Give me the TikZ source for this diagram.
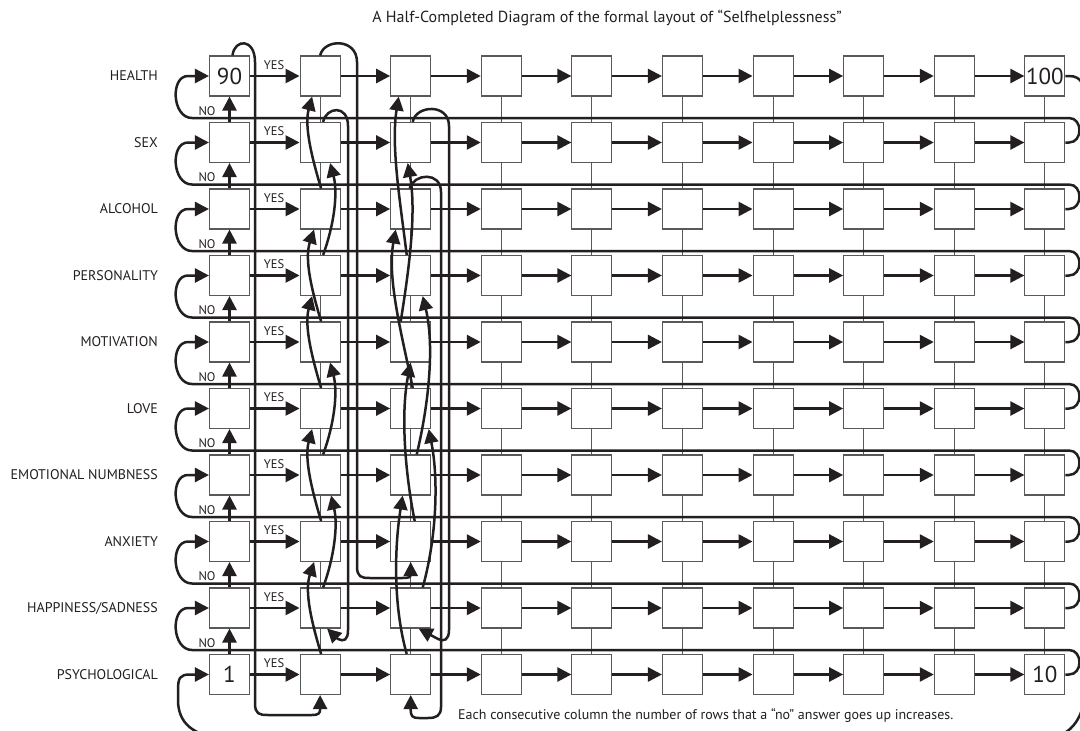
\documentclass[tikz,border=0pt]{standalone}
\usepackage{fontspec}
\setmainfont{PT Sans}
\usetikzlibrary{arrows.meta,calc}
\definecolor{ink}{HTML}{231F20}
\definecolor{boxgray}{HTML}{58595B}
\newcommand\sCurve[7]{%
  \draw[arr] ($(#1.north)+(#3,0)$) .. controls ($(#1.north)+(#4,-#7)$) and ($(#2.south)+(#5,#7)$) .. ($(#2.south)+(#6,0)$);}
\begin{document}
\begin{tikzpicture}[x=1pt,y=-1pt,
  cell/.style={draw=boxgray,line width=1.1pt,fill=white,minimum width=40pt,minimum height=40pt,inner sep=0pt},
  num/.style={font=\fontsize{23}{23}\selectfont,text=ink,inner sep=0pt},
  flow/.style={draw=ink,line width=2.5pt},
  arr/.style={flow,-{Triangle[length=14pt,width=14pt]}},
  link/.style={draw=boxgray,line width=1pt},
  lab/.style={font=\fontsize{14}{16}\selectfont,text=ink,anchor=east,inner sep=0pt},
  small/.style={font=\fontsize{12.5}{14}\selectfont,text=ink,inner sep=0pt},
  note/.style={font=\fontsize{14}{16}\selectfont,text=ink,inner sep=0pt}]
\useasboundingbox (0,0) rectangle (1080,731);
\fill[white] (0,0) rectangle (1080,731);
\clip (0,0) rectangle (1080,731);

% boxes
\foreach \r in {0,...,9} {
  \foreach \c in {0,...,9} {
    \pgfmathsetmacro\xx{229.5+90.6*\c}
    \pgfmathsetmacro\yy{76+66.5*\r}
    \node[cell] (b\r-\c) at (\xx,\yy) {};
  }
}
\node[num] (n90) at (b0-0) {90};
\node[num] (n100) at (b0-9) {100};
\node[num] (n1) at (b9-0) {1};
\node[num] (n10) at (b9-9) {10};

% thin vertical links
\foreach \r in {0,...,8} {
  \pgfmathtruncatemacro\rr{\r+1}
  \foreach \c in {1,...,9} {
    \draw[link] (b\r-\c.south) -- (b\rr-\c.north);
  }
}

% horizontal arrows
\foreach \r in {0,...,9} {
  \foreach \c in {0,...,8} {
    \pgfmathtruncatemacro\cc{\c+1}
    \draw[arr] (b\r-\c.east) -- (b\r-\cc.west);
  }
}

% NO arrows in first column
\foreach \r in {1,...,9} {
  \pgfmathtruncatemacro\rr{\r-1}
  \draw[arr] (b\r-0.north) -- (b\rr-0.south);
}

% row return lines
\foreach \k in {0,...,8} {
  \pgfmathtruncatemacro\kk{\k+1}
  \pgfmathsetmacro\yk{76+66.5*\k}
  \pgfmathsetmacro\yl{\yk+42}
  \pgfmathsetmacro\yn{\yk+66.5}
  \draw[arr] (b\kk-9.east) -- (1069,\yn) .. controls (1083,\yn) and (1083,\yl) .. (1069,\yl)
     -- (192,\yl) .. controls (172,\yl) and (170,\yk) .. (188,\yk) -- (b\k-0.west);
}

% outer loop 100 -> 1
\draw[arr] (b0-9.east) -- (1069,76) .. controls (1082,76) and (1085,86) .. (1085,100)
   -- (1085,690) .. controls (1085,712) and (1074,738) .. (1045,738)
   -- (230,738) .. controls (192,738) and (178,722) .. (178,700)
   -- (178,690) .. controls (178,678) and (180,674.5) .. (190,674.5) -- (b9-0.west);

% wrap lines
\draw[arr] ($(b0-0.north)+(3,0)$) .. controls ($(b0-0.north)+(5,-17)$) and (255,38) .. (255,62)
   -- (255,703) .. controls (255,714) and (259,715) .. (268,715)
   -- (312,715) .. controls (319,715) and (320.1,713) .. (320.1,709) -- (b9-1.south);
\draw[arr] (b0-1.north) .. controls ($(b0-1.north)+(4,-17)$) and (357,38) .. (357,62)
   -- (357,566) .. controls (357,577) and (361,578) .. (370,578)
   -- (402,578) .. controls (409,578) and (410.7,577) .. (410.7,575.5) -- (b7-2.south);
\draw[arr] ($(b1-1.north)+(3,0)$) .. controls ($(b1-1.north)+(6,-15)$) and (348,104) .. (348,126)
   -- (348,630) .. controls (348,640) and (344,642) .. (338,639) -- ($(b8-1.south)+(7,0)$);
\draw[arr] ($(b1-2.north)+(2,0)$) .. controls ($(b1-2.north)+(5,-17)$) and (449,103) .. (449,126)
   -- (449,630) .. controls (449,640) and (444,642) .. (438,639) -- ($(b8-2.south)+(8,0)$);
\draw[arr] ($(b2-2.north)+(-1,0)$) .. controls ($(b2-2.north)+(3,-15)$) and (441,171) .. (441,192)
   -- (441,707) .. controls (441,716) and (436,718) .. (428,718)
   -- (419,718) .. controls (412,718) and (410.7,716) .. (410.7,709) -- (b9-2.south);

% S-curves, second column (up two rows)
\sCurve{b2-1}{b0-1}{1}{-8}{-16}{-8}{30}
\sCurve{b3-1}{b1-1}{3}{14}{18}{10}{30}
\sCurve{b4-1}{b2-1}{1}{-8}{-16}{-6}{30}
\sCurve{b5-1}{b3-1}{1}{-8}{-16}{-8}{30}
\sCurve{b6-1}{b4-1}{3}{14}{18}{10}{30}
\sCurve{b7-1}{b5-1}{1}{-8}{-16}{-8}{30}
\sCurve{b8-1}{b6-1}{3}{14}{18}{11}{30}
\sCurve{b9-1}{b7-1}{1}{-8}{-16}{-6}{30}

% S-curves, third column (up three rows)
\sCurve{b3-2}{b0-2}{-4}{-10}{-20}{-12}{50}
\sCurve{b4-2}{b1-2}{-10}{-2}{6}{-3}{50}
\sCurve{b5-2}{b2-2}{2}{-8}{-24}{-15}{50}
\sCurve{b6-2}{b3-2}{6}{18}{24}{12}{50}
\sCurve{b7-2}{b4-2}{4}{-6}{-10}{0}{50}
\sCurve{b8-2}{b5-2}{12}{26}{28}{18}{50}
\sCurve{b9-2}{b6-2}{-4}{-18}{-16}{-8}{50}

% labels
\foreach \t [count=\i from 0] in {HEALTH,SEX,ALCOHOL,PERSONALITY,MOTIVATION,LOVE,EMOTIONAL NUMBNESS,ANXIETY,HAPPINESS/SADNESS,PSYCHOLOGICAL} {
  \node[lab] (l\i) at (158,{76+66.5*\i}) {\t};
  \node[small] (y\i) at (274,{65+66.5*\i}) {YES};
}
\foreach \i in {0,...,8} {
  \node[small] (no\i) at (207,{111+66.5*\i}) {NO};
}

\node[font=\fontsize{16}{18}\selectfont,text=ink,inner sep=0pt] (title) at (607,18)
  {A Half-Completed Diagram of the formal layout of “Selfhelplessness”};
\node[note,anchor=west] (nt) at (458,716)
  {Each consecutive column the number of rows that a “no” answer goes up increases.};
\end{tikzpicture}
\end{document}
